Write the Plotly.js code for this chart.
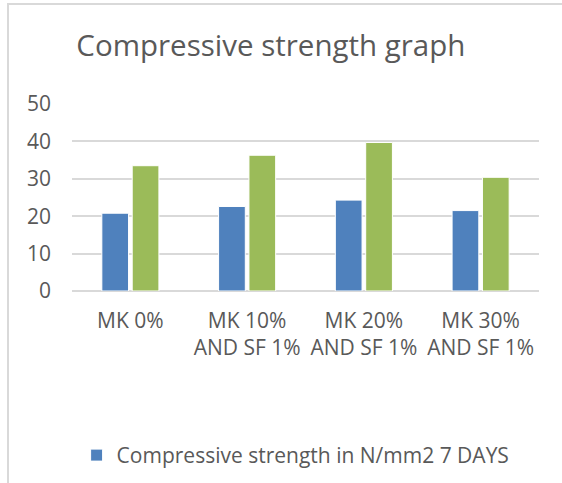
<!DOCTYPE html>
<html><head><meta charset="utf-8">
<script src="https://cdn.plot.ly/plotly-3.0.1.min.js"></script>
<style>
html,body{margin:0;padding:0;background:#fff;}
#frame{position:absolute;left:7px;top:3px;width:560px;height:485px;border-left:2px solid #d9d9d9;border-top:2px solid #d9d9d9;}
#chart{position:absolute;left:0;top:0;width:562px;height:483px;}
</style></head>
<body>
<div id="frame"></div>
<div id="chart"></div>
<script>
const categories = ["MK 0%", "MK 10%<br>AND SF 1%", "MK 20%<br>AND SF 1%", "MK 30%<br>AND SF 1%"];
const days7 = [20.8, 22.6, 24.3, 21.5];
const days28 = [33.5, 36.3, 39.7, 30.4];
const seriesNames = ["Compressive strength in N/mm2 7 DAYS", "Compressive strength in N/mm2 28 DAYS"];
const yTicks = [0, 10, 20, 30, 40, 50];

const font = "Open Sans, Liberation Sans, sans-serif";
const data = [
  {type: "bar", x: categories, y: days7, name: seriesNames[0], marker: {color: "#4F81BD", line: {color: "#ffffff", width: 1}}, showlegend: true},
  {type: "bar", x: categories, y: days28, name: seriesNames[1], marker: {color: "#9BBB59", line: {color: "#ffffff", width: 1}}, showlegend: false}
];
const layout = {
  width: 562, height: 483,
  paper_bgcolor: "rgba(0,0,0,0)", plot_bgcolor: "rgba(0,0,0,0)",
  margin: {l: 72, r: 23, t: 104, b: 192},
  title: {text: "Compressive strength graph", x: 0.482, xref: "container", xanchor: "center", y: 0.905, yref: "container", yanchor: "middle", font: {family: font, size: 29.5, color: "#595959"}},
  barmode: "group", bargap: 0.48, bargroupgap: 0.12,
  xaxis: {tickfont: {family: font, size: 21, color: "#595959"}, showgrid: false, showline: false, ticks: "", fixedrange: true, ticklabelstandoff: 15},
  yaxis: {range: [0, 50], tickvals: yTicks, tickfont: {family: font, size: 21, color: "#595959"}, gridcolor: "#d9d9d9", gridwidth: 2, zeroline: true, zerolinecolor: "#d9d9d9", zerolinewidth: 2, showline: false, ticks: "", ticklabelstandoff: 20},
  legend: {orientation: "h", x: 0.526, xanchor: "center", xref: "container", y: 0.057, yref: "container", yanchor: "middle", itemwidth: 30, font: {family: font, size: 21, color: "#595959"}}
};
Plotly.newPlot("chart", data, layout, {displayModeBar: false, staticPlot: true});
</script>
</body></html>
